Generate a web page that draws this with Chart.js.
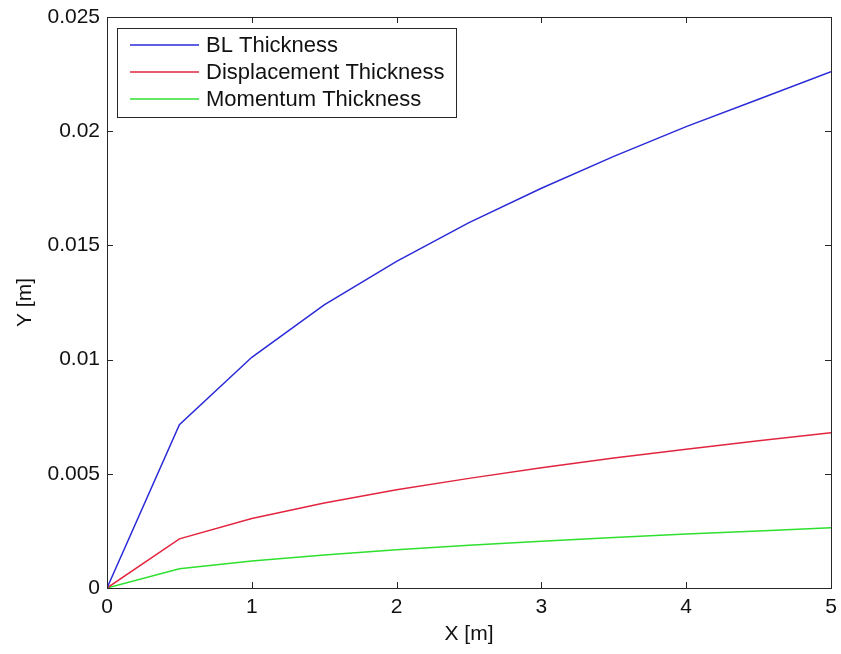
<!DOCTYPE html>
<html>
<head>
<meta charset="utf-8">
<script src="https://cdn.jsdelivr.net/npm/chart.js@4/dist/chart.umd.min.js"></script>
<style>
  html, body { margin: 0; padding: 0; background: #ffffff; }
  #wrap { width: 841px; height: 654px; }
</style>
</head>
<body>
<div id="wrap"><canvas id="c" width="841" height="654"></canvas></div>
<script>
// Data
const xValues = [0, 0.5, 1, 1.5, 2, 2.5, 3, 3.5, 4, 4.5, 5];
const blThickness = [0, 0.00715, 0.0101, 0.0124, 0.0143, 0.0160, 0.0175, 0.0189, 0.0202, 0.0214, 0.0226];
const displacementThickness = [0, 0.00215, 0.00304, 0.00372, 0.0043, 0.0048, 0.00527, 0.00569, 0.00608, 0.00645, 0.0068];
const momentumThickness = [0, 0.00084, 0.00118, 0.00145, 0.00167, 0.00187, 0.00205, 0.00221, 0.00236, 0.0025, 0.00264];
const seriesLabels = ['BL Thickness', 'Displacement Thickness', 'Momentum Thickness'];
const xTickValues = [0, 1, 2, 3, 4, 5];
const yTickValues = [0, 0.005, 0.01, 0.015, 0.02, 0.025];
const xTitle = 'X [m]';
const yTitle = 'Y [m]';

const FONT = 'Liberation Sans, Arial, Helvetica, sans-serif';
const colors = ['#2a2ad8', '#e2243e', '#2ee02e'];

function toPts(ys) { return xValues.map((x, i) => ({ x: x, y: ys[i] })); }

const boxPlugin = {
  id: 'matlabBox',
  afterDraw(chart) {
    const ctx = chart.ctx;
    const a = chart.chartArea;
    const xs = chart.scales.x, ys = chart.scales.y;
    ctx.save();
    ctx.strokeStyle = '#262626';
    ctx.lineWidth = 1;
    ctx.strokeRect(Math.round(a.left) + 0.5, Math.round(a.top) + 0.5, Math.round(a.right - a.left), Math.round(a.bottom - a.top));
    const tl = 6;
    ctx.beginPath();
    xTickValues.forEach(v => {
      const px = Math.round(xs.getPixelForValue(v)) + 0.5;
      ctx.moveTo(px, a.bottom); ctx.lineTo(px, a.bottom - tl);
      ctx.moveTo(px, a.top); ctx.lineTo(px, a.top + tl);
    });
    yTickValues.forEach(v => {
      const py = Math.round(ys.getPixelForValue(v)) + 0.5;
      ctx.moveTo(a.left, py); ctx.lineTo(a.left + tl, py);
      ctx.moveTo(a.right, py); ctx.lineTo(a.right - tl, py);
    });
    ctx.stroke();

    // legend box
    const lx = 117, ly = 28, lw = 339, lh = 89;
    ctx.fillStyle = '#ffffff';
    ctx.fillRect(lx, ly, lw, lh);
    ctx.strokeStyle = '#262626';
    ctx.strokeRect(lx + 0.5, ly + 0.5, lw, lh);
    ctx.font = '22px ' + FONT;
    ctx.textBaseline = 'middle';
    ctx.fillStyle = '#111111';
    const rows = [45, 72, 99];
    chart.data.datasets.forEach((ds, i) => {
      ctx.strokeStyle = ds.borderColor;
      ctx.lineWidth = 1.5;
      ctx.beginPath();
      ctx.moveTo(130, rows[i]); ctx.lineTo(199, rows[i]);
      ctx.stroke();
      ctx.fillText(ds.label, 206, rows[i] + 1);
    });
    ctx.restore();
  }
};

new Chart(document.getElementById('c'), {
  type: 'line',
  data: {
    datasets: [
      { label: seriesLabels[0], data: toPts(blThickness), borderColor: colors[0] },
      { label: seriesLabels[1], data: toPts(displacementThickness), borderColor: colors[1] },
      { label: seriesLabels[2], data: toPts(momentumThickness), borderColor: colors[2] }
    ]
  },
  options: {
    responsive: false,
    animation: false,
    devicePixelRatio: 1,
    layout: { padding: { left: 0, top: 17, right: 10, bottom: 0 } },
    elements: {
      line: { borderWidth: 1.5, tension: 0, fill: false },
      point: { radius: 0, hoverRadius: 0 }
    },
    plugins: { legend: { display: false }, tooltip: { enabled: false } },
    scales: {
      x: {
        type: 'linear', min: 0, max: 5,
        afterFit(s) { s.height = 66; s.paddingRight = 0; s.paddingLeft = 0; },
        afterBuildTicks(s) { s.ticks = xTickValues.map(v => ({ value: v })); },
        grid: { display: false, drawTicks: false },
        border: { display: false },
        ticks: { padding: 7, color: '#111111', font: { family: FONT, size: 21 }, maxRotation: 0,
                 callback: v => String(v) },
        title: { display: true, text: xTitle, color: '#111111', font: { family: FONT, size: 21 },
                 padding: { top: 0, bottom: 7 } }
      },
      y: {
        type: 'linear', min: 0, max: 0.025,
        afterFit(s) { s.width = 107; s.paddingTop = 0; s.paddingBottom = 0; },
        afterBuildTicks(s) { s.ticks = yTickValues.map(v => ({ value: v })); },
        grid: { display: false, drawTicks: false },
        border: { display: false },
        ticks: { padding: 7, color: '#111111', font: { family: FONT, size: 21 },
                 callback: v => String(v) },
        title: { display: true, text: yTitle, color: '#111111', font: { family: FONT, size: 21 },
                 padding: { top: 13, bottom: 0 } }
      }
    }
  },
  plugins: [boxPlugin]
});
</script>
</body>
</html>
